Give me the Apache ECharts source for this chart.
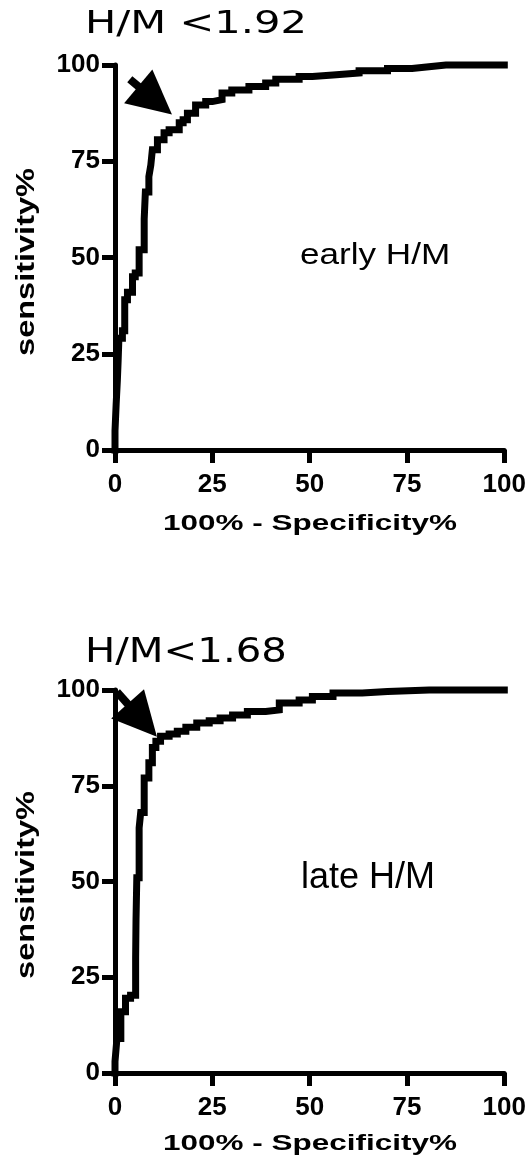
<!DOCTYPE html>
<html>
<head>
<meta charset="utf-8">
<script src="https://cdn.jsdelivr.net/npm/echarts@6/dist/echarts.min.js"></script>
<style>
    html,
    body {
        margin: 0;
        padding: 0;
        background: #fff;
    }

    #roc {
        width: 529px;
        height: 1165px;
    }
</style>
</head>
<body>
<div id="roc"></div>
<script>
    // ROC 数据：x = 100% - Specificity%, y = sensitivity%
    var earlyX = [0, 0.3, 0.6, 0.8, 1, 1.9, 2.5, 3.2, 4.5, 5.2, 6.2, 7.5, 7.8, 8.7, 9.2, 9.6, 10.9, 12.6, 13.9, 16.5, 17.5, 18.6, 20.7, 23.3, 25, 27.5, 30, 34.4, 38.7, 41.3, 47.3, 50.7, 56, 62.7, 70, 76.3, 80, 85, 100];
    var earlyY = [0, 5, 12, 18, 23, 29, 31, 39, 41, 45, 46, 52, 60, 67, 71, 74, 78, 80.6, 82.4, 83.2, 85, 85.8, 87.5, 89.6, 90.5, 91, 92.7, 93.5, 94.4, 95.3, 96.3, 97, 97.4, 97.9, 98.5, 99.1, 99.5, 100, 100];

    var lateX = [0, 0.5, 1.5, 2.7, 4, 5.3, 5.4, 5.6, 6.2, 6.6, 7.5, 8.7, 9.6, 10.5, 11.7, 13.9, 16, 18.2, 21, 24.2, 27, 30.2, 34, 38.7, 42.2, 47.3, 50.7, 56, 63.5, 70, 80.7, 100];
    var lateY = [0, 3, 9, 16, 19.5, 20.3, 30, 40, 51, 64, 68, 77, 81, 85, 86.6, 87.9, 88.5, 89.2, 90.3, 91.4, 92, 92.7, 93.5, 94.4, 94.8, 96.6, 97.4, 98.3, 99.2, 99.6, 100, 100];

    var tickValues = [0, 25, 50, 75, 100];

    // 箭头：起点 -> 箭头中心
    var earlyArrow = [[3.8, 96.3], [10.3, 90.8]];
    var lateArrow = [[0.5, 99.5], [7.0, 92.1]];

    var earlyCut = 'H/M <1.92';
    var lateCut = 'H/M<1.68';
    var earlyName = 'early H/M';
    var lateName = 'late H/M';
    var xTitle = '100% - Specificity%';
    var yTitle = 'sensitivity%';

    var pairs = function(xs, ys) {
        var out = [];
        for (var i = 0; i < xs.length; i++) {
            out.push([xs[i], ys[i]]);
        }
        return out;
    };

    var labelFont = {
        color: '#000',
        fontSize: 26,
        fontWeight: 'bold',
        fontFamily: 'Liberation Sans'
    };

    var makeAxis = function(idx, isX) {
        return {
            type: 'value',
            gridIndex: idx,
            min: tickValues[0],
            max: tickValues[tickValues.length - 1],
            interval: tickValues[1] - tickValues[0],
            axisLine: {
                onZero: false,
                lineStyle: {
                    color: '#000',
                    width: 5
                }
            },
            axisTick: {
                length: 13,
                lineStyle: {
                    color: '#000',
                    width: 5
                }
            },
            axisLabel: Object.assign({
                margin: isX ? 22 : 15
            }, labelFont),
            splitLine: {
                show: false
            }
        };
    };

    var makeSeries = function(idx, data, arrow) {
        return {
            type: 'line',
            xAxisIndex: idx,
            yAxisIndex: idx,
            data: data,
            step: 'start',
            showSymbol: false,
            clip: false,
            lineStyle: {
                color: '#000',
                width: 7,
                cap: 'square',
                join: 'miter'
            },
            markLine: {
                silent: true,
                symbol: ['none', 'triangle'],
                symbolSize: 44,
                label: {
                    show: false
                },
                emphasis: {
                    disabled: true
                },
                lineStyle: {
                    color: '#000',
                    width: 8,
                    type: 'solid',
                    opacity: 1
                },
                itemStyle: {
                    color: '#000'
                },
                data: [
                    [{
                        coord: arrow[0]
                    }, {
                        coord: arrow[1]
                    }]
                ]
            }
        };
    };

    var textEl = function(text, x, y, font, sx, align, rot) {
        return {
            type: 'text',
            x: x,
            y: y,
            rotation: rot || 0,
            scaleX: sx,
            style: {
                text: text,
                font: font,
                fill: '#000',
                align: align,
                textAlign: align,
                verticalAlign: 'middle',
                textVerticalAlign: 'middle'
            }
        };
    };

    var myChart = echarts.init(document.getElementById('roc'));
    var option = {
        animation: false,
        grid: [{
            left: 115,
            top: 65,
            width: 390,
            height: 385
        }, {
            left: 115,
            top: 690,
            width: 390,
            height: 383
        }],
        xAxis: [makeAxis(0, true), makeAxis(1, true)],
        yAxis: [makeAxis(0, false), makeAxis(1, false)],
        series: [
            makeSeries(0, pairs(earlyX, earlyY), earlyArrow),
            makeSeries(1, pairs(lateX, lateY), lateArrow)
        ],
        graphic: [
            textEl(earlyCut, 85, 25, 'normal 32px "DejaVu Sans"', 1.3, 'left'),
            textEl(lateCut, 85, 653, 'normal 33px "DejaVu Sans"', 1.22, 'left'),
            textEl(earlyName, 300, 256, 'normal 30px "Liberation Sans"', 1.17, 'left'),
            textEl(lateName, 301, 878, 'normal 36px "Liberation Sans"', 1, 'left'),
            textEl(xTitle, 310, 524, 'bold 22px "Liberation Sans"', 1.43, 'center'),
            textEl(xTitle, 310, 1144, 'bold 22px "Liberation Sans"', 1.43, 'center'),
            textEl(yTitle, 27, 262, 'bold 25px "Liberation Sans"', 1.3, 'center', Math.PI / 2),
            textEl(yTitle, 27, 885, 'bold 25px "Liberation Sans"', 1.3, 'center', Math.PI / 2)
        ]
    };
    myChart.setOption(option);
</script>
</body>
</html>
